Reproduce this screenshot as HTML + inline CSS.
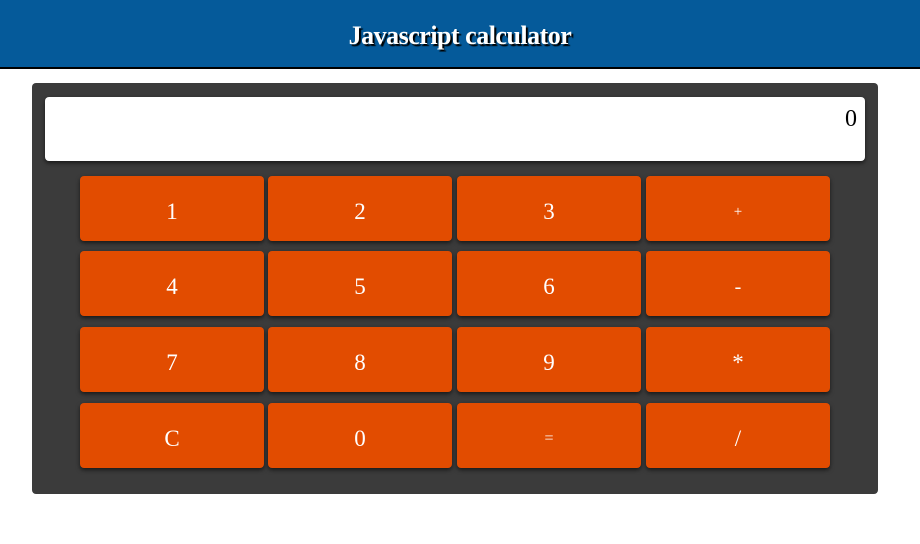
<!DOCTYPE html>
<html><head><style>
body{margin:0;width:920px;height:544px;background:#fff;font-family:"Liberation Serif",serif;position:relative;overflow:hidden}
.hdr{position:absolute;left:0;top:0;width:920px;height:67px;background:#055a9a;border-bottom:2px solid #000;color:#fff;font-weight:bold;font-size:26px;text-align:center;line-height:72px;text-shadow:2px 2px 1px #000;letter-spacing:-0.5px}
.box{position:absolute;left:32px;top:83px;width:846px;height:411px;background:#3b3b3b;border-radius:4px}
.disp{position:absolute;left:13px;top:14px;width:820px;height:64px;background:#fff;border-radius:4px;box-shadow:0 2px 4px rgba(0,0,0,.6);font-size:24px;text-align:right;box-sizing:border-box;padding-right:8px;line-height:44px}
.b{position:absolute;width:184px;height:65px;background:#e24c00;border-radius:4px;box-shadow:0 2px 4px rgba(0,0,0,.6);color:#fff;font-size:23px;text-align:center;line-height:72px}
</style></head><body>
<div class="hdr">Javascript calculator</div>
<div class="box"><div class="disp">0</div>
<div class="b" style="left:48px;top:93px">1</div>
<div class="b" style="left:236px;top:93px">2</div>
<div class="b" style="left:425px;top:93px">3</div>
<div class="b" style="left:614px;top:93px;font-size:15px">+</div>
<div class="b" style="left:48px;top:168px">4</div>
<div class="b" style="left:236px;top:168px">5</div>
<div class="b" style="left:425px;top:168px">6</div>
<div class="b" style="left:614px;top:168px;font-size:20px">-</div>
<div class="b" style="left:48px;top:244px">7</div>
<div class="b" style="left:236px;top:244px">8</div>
<div class="b" style="left:425px;top:244px">9</div>
<div class="b" style="left:614px;top:244px">*</div>
<div class="b" style="left:48px;top:320px">C</div>
<div class="b" style="left:236px;top:320px">0</div>
<div class="b" style="left:425px;top:320px;font-size:16px">=</div>
<div class="b" style="left:614px;top:320px">/</div>
</div>
</body></html>
